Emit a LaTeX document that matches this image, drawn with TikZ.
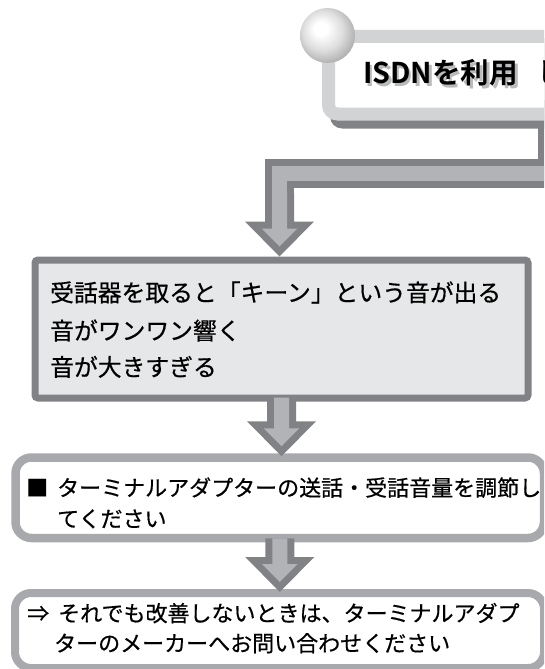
\documentclass[tikz,border=0pt]{standalone}
\usepackage{fontspec}
\newfontfamily\jp[FakeBold=0.5]{Noto Sans CJK JP}
\newfontfamily\jpb{Noto Sans CJK JP Bold}[UprightFont=*, BoldFont=*]
\usetikzlibrary{calc}
\definecolor{darkg}{RGB}{128,130,133}
\definecolor{lightg}{RGB}{177,179,182}
\definecolor{boxfill}{RGB}{230,231,232}
\definecolor{rndborder}{RGB}{167,169,172}
\definecolor{framec}{RGB}{209,211,212}
\definecolor{tshadow}{RGB}{185,186,188}
\pgfdeclareradialshading{knob}{\pgfpoint{-7bp}{7bp}}{color(0bp)=(white); color(6bp)=(white); color(18bp)=(white!87!black); color(28bp)=(white!70!black); color(50bp)=(white!64!black)}
% outer (dark) and inner (light) parts of a block arrow; #1 = shaft start, #2 = tip
\newcommand\arrowouter[2]{%
  \fill[darkg] let \p1=(#1), \p2=(#2) in
    (\x1-14.5pt,\y1) -- (\x1+14.5pt,\y1) -- (\x1+14.5pt,\y2+35pt) -- (\x1+34.5pt,\y2+35pt)
    -- (\x1,\y2) -- (\x1-34.5pt,\y2+35pt) -- (\x1-14.5pt,\y2+35pt) -- cycle;}
\newcommand\arrowinner[2]{%
  \fill[lightg] let \p1=(#1), \p2=(#2) in
    (\x1-7.5pt,\y1) -- (\x1+7.5pt,\y1) -- (\x1+7.5pt,\y2+28pt) -- (\x1+17.8pt,\y2+28pt)
    -- (\x1,\y2+10pt) -- (\x1-17.8pt,\y2+28pt) -- (\x1-7.5pt,\y2+28pt) -- cycle;}
\begin{document}
\begin{tikzpicture}[x=1pt,y=-1pt,
  sqbox/.style={draw=darkg, fill=boxfill, line width=7pt, rounded corners=3pt, inner sep=0pt, anchor=north west},
  rndbox/.style={draw=rndborder, fill=white, line width=8pt, rounded corners=16pt, inner sep=0pt, anchor=north west},
  bigtxt/.style={anchor=base west, inner sep=0pt, font=\jp\fontsize{23.8}{28}\selectfont},
  smalltxt/.style={anchor=base west, inner sep=0pt, font=\jp\fontsize{22}{26}\selectfont},
  titletxt/.style={anchor=base west, inner sep=0pt, font=\jpb\fontsize{28.6}{32}\selectfont}]
\path[use as bounding box] (0,0) rectangle (544,669);
\clip (0,0) rectangle (544,669);

% boxes
\node[sqbox, minimum width=493pt, minimum height=138pt] (b1) at (31.5,256.5) {};
\node[rndbox, line width=8.5pt, minimum width=528.5pt, minimum height=80.5pt] (b2) at (11.25,453.25) {};
\node[rndbox, minimum width=529pt, minimum height=75pt] (b3) at (11,589) {};

% pipe from the title to the first box
\coordinate (p0) at (552.5,100);
\coordinate (p1) at (552.5,173.5);
\coordinate (p2) at (279.5,173.5);
\draw[darkg, line width=29pt] (p0) -- (p1) -- (p2) -- ($(p2)+(0,30)$);
\arrowouter{$(p2)+(0,20)$}{$(p2 |- b1.north)+(0,0)$}
\draw[lightg, line width=15pt] (p0) -- (p1) -- (p2) -- ($(p2)+(0,30)$);
\arrowinner{$(p2)+(0,20)$}{$(p2 |- b1.north)+(0,0)$}

% title frame
\fill[darkg, rounded corners=12pt] (330,38) rectangle (620,128.5);
\draw[framec, fill=white, line width=13pt, rounded corners=9pt] (328.5,36.5) rectangle (610,114);
\shade[shading=knob] (327.5,35.5) circle[radius=27.5];
\node[titletxt, text=tshadow] (ttsh) at (365.5,86) {ISDNを利用\hspace{19pt}し};
\node[titletxt] (tt) at (363,83.5) {ISDNを利用\hspace{19pt}し};

% arrows between boxes
\arrowouter{$(b1.south)+(0,-4)$}{$(b2.north)+(0,3)$}
\arrowinner{$(b1.south)+(0,-4)$}{$(b2.north)+(0,3)$}
\arrowouter{$(b2.south)+(0,-4)$}{$(b3.north)+(0,3)$}
\arrowinner{$(b2.south)+(0,-4)$}{$(b3.north)+(0,3)$}

% texts
\node[bigtxt] (t1a) at (50,301.5) {受話器を取ると「キーン」という音が出る};
\node[bigtxt] (t1b) at (50,339.6) {音がワンワン響く};
\node[bigtxt] (t1c) at (50,376) {音が大きすぎる};
\node[smalltxt] (t2a) at (26,496) {■\hspace{9pt}ターミナルアダプターの送話・受話音量を調節し};
\node[smalltxt] (t2b) at (57,527) {てください};
\node[smalltxt] (t3a) at (27,621.5) {⇒\hspace{9pt}それでも改善しないときは、ターミナルアダプ};
\node[smalltxt] (t3b) at (54,651.5) {ターのメーカーへお問い合わせください};
\end{tikzpicture}
\end{document}
